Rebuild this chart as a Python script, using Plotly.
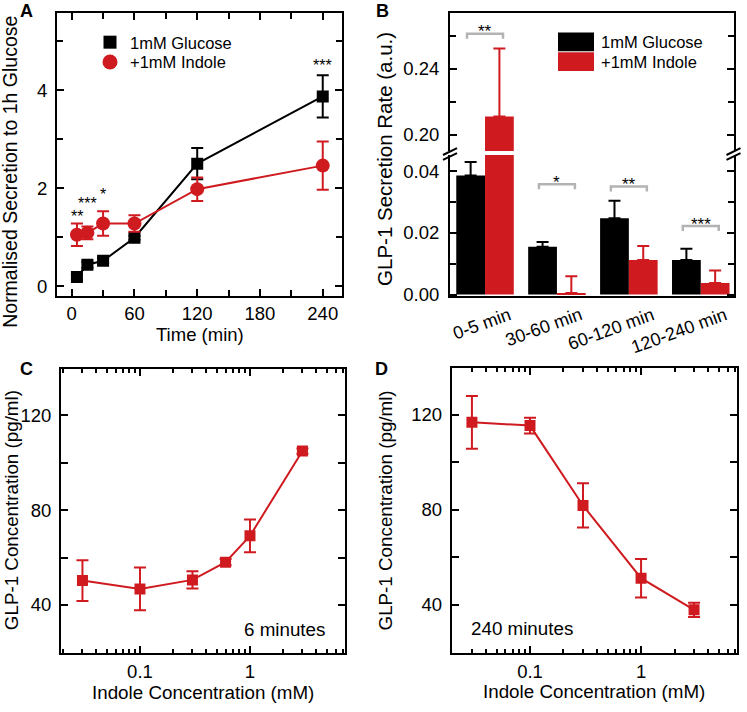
import plotly.graph_objects as go

# ---------------- data ----------------
# Panel A
time_min = [5, 15, 30, 60, 120, 240]
glucose_norm = [0.19, 0.44, 0.52, 0.99, 2.50, 3.87]
glucose_norm_err = [0.06, 0.06, 0.05, 0.04, 0.32, 0.43]
indole_norm = [1.05, 1.09, 1.28, 1.28, 1.98, 2.46]
indole_norm_err = [0.23, 0.13, 0.25, 0.17, 0.24, 0.49]
a_sig_x = [5, 15, 30, 240]
a_sig_y = [1.53, 1.78, 1.98, 4.60]
a_sig_text = ["**", "***", "*", "***"]

# Panel B
periods = ["0-5 min", "30-60 min", "60-120 min", "120-240 min"]
glucose_rate = [0.0386, 0.0155, 0.0247, 0.0112]
glucose_rate_err = [0.0043, 0.0015, 0.0057, 0.0036]
indole_rate = [0.211, 0.0005, 0.0112, 0.0037]
indole_rate_err = [0.0415, 0.0054, 0.0045, 0.0041]
b_sig_level = [0.2614, 0.0357, 0.0350, 0.0222]
b_sig_text = ["**", "*", "**", "***"]

# Panel C (6 minutes)
conc_c = [0.03, 0.1, 0.3, 0.6, 1, 3]
glp_c = [50.3, 46.8, 50.6, 58.1, 69.2, 105.0]
glp_c_err = [8.6, 9.0, 3.6, 1.3, 6.9, 1.1]

# Panel D (240 minutes)
conc_d = [0.03, 0.1, 0.3, 1, 3]
glp_d = [116.8, 115.4, 81.8, 51.2, 37.9]
glp_d_err = [11.1, 3.3, 9.3, 8.1, 3.0]

# ---------------- style ----------------
W, H = 747, 712
RED = "#cf1b20"
BLACK = "#000000"
GRAY = "#b3b3b3"
FONT = "Liberation Sans, Arial, sans-serif"
TICKFONT = dict(family=FONT, size=18.5, color="black")


def px(x):
    return x / W


def py(y):
    return 1 - y / H


fig = go.Figure()

# ---- Panel A ----
fig.add_trace(go.Scatter(
    x=time_min, y=glucose_norm, mode="lines+markers",
    line=dict(color=BLACK, width=2),
    marker=dict(symbol="square", size=12, color=BLACK),
    error_y=dict(type="data", array=glucose_norm_err, color=BLACK, thickness=2, width=6),
    xaxis="x", yaxis="y", showlegend=False))
fig.add_trace(go.Scatter(
    x=time_min, y=indole_norm, mode="lines+markers",
    line=dict(color=RED, width=2),
    marker=dict(symbol="circle", size=14, color=RED),
    error_y=dict(type="data", array=indole_norm_err, color=RED, thickness=2, width=6),
    xaxis="x", yaxis="y", showlegend=False))
# legend entries (markers only), one legend box each
fig.add_trace(go.Scatter(x=[None], y=[None], mode="markers", name="1mM Glucose",
                         marker=dict(symbol="square", size=13, color=BLACK),
                         xaxis="x", yaxis="y", legend="legend"))
fig.add_trace(go.Scatter(x=[None], y=[None], mode="markers", name="+1mM Indole",
                         marker=dict(symbol="circle", size=15, color=RED),
                         xaxis="x", yaxis="y", legend="legend2"))

# ---- Panel B (broken axis: lower x2/y2, upper x3/y3) ----
bx = list(range(len(periods)))
for xa, ya in (("x2", "y2"), ("x3", "y3")):
    fig.add_trace(go.Bar(
        x=bx, y=glucose_rate, marker=dict(color=BLACK, line=dict(width=0)),
        error_y=dict(type="data", array=glucose_rate_err, arrayminus=[0] * len(bx),
                     symmetric=False, color=BLACK, thickness=2, width=6),
        xaxis=xa, yaxis=ya, showlegend=False))
    fig.add_trace(go.Bar(
        x=bx, y=indole_rate, marker=dict(color=RED, line=dict(width=0)),
        error_y=dict(type="data", array=indole_rate_err, arrayminus=[0] * len(bx),
                     symmetric=False, color=RED, thickness=2, width=6),
        xaxis=xa, yaxis=ya, showlegend=False))

# ---- Panel C ----
fig.add_trace(go.Scatter(
    x=conc_c, y=glp_c, mode="lines+markers",
    line=dict(color=RED, width=2),
    marker=dict(symbol="square", size=11, color=RED),
    error_y=dict(type="data", array=glp_c_err, color=RED, thickness=2, width=6),
    xaxis="x4", yaxis="y4", showlegend=False))

# ---- Panel D ----
fig.add_trace(go.Scatter(
    x=conc_d, y=glp_d, mode="lines+markers",
    line=dict(color=RED, width=2),
    marker=dict(symbol="square", size=11, color=RED),
    error_y=dict(type="data", array=glp_d_err, color=RED, thickness=2, width=6),
    xaxis="x5", yaxis="y5", showlegend=False))


def ax(**kw):
    base = dict(showline=True, linecolor="black", linewidth=2, ticks="inside",
                ticklen=7, tickwidth=2, tickcolor="black", showgrid=False,
                zeroline=False, tickfont=TICKFONT, mirror="ticks")
    base.update(kw)
    return base


minor_lin = lambda d: dict(dtick=d, ticks="inside", ticklen=6, tickwidth=2, tickcolor="black")
log_minor = [0.02, 0.03, 0.04, 0.05, 0.06, 0.07, 0.08, 0.09,
             0.2, 0.3, 0.4, 0.5, 0.6, 0.7, 0.8, 0.9, 2, 3, 4, 5, 6, 7]
minor_log = dict(tickvals=log_minor, ticks="inside", ticklen=4, tickwidth=2, tickcolor="black")

b_lower_dom = [py(300), py(157)]
b_upper_dom = [py(153), py(13.3)]
LEGFONT = dict(family=FONT, size=16.5, color="black")

fig.update_layout(
    width=W, height=H, margin=dict(l=0, r=0, t=0, b=0),
    paper_bgcolor="white", plot_bgcolor="rgba(0,0,0,0)",
    font=dict(family=FONT, color="black"),
    barmode="group", bargap=0.2, bargroupgap=0,
    showlegend=True,
    legend=dict(x=px(90), y=py(43), xanchor="left", yanchor="middle",
                bgcolor="rgba(0,0,0,0)", font=LEGFONT, itemwidth=30),
    legend2=dict(x=px(90), y=py(63), xanchor="left", yanchor="middle",
                 bgcolor="rgba(0,0,0,0)", font=LEGFONT, itemwidth=30),
    # A
    xaxis=ax(domain=[px(57), px(342.3)], range=[-14.06, 258.7], anchor="y",
             tickvals=[0, 60, 120, 180, 240], minor=minor_lin(30), ticklabelstandoff=0),
    yaxis=ax(domain=[py(300), py(13.3)], range=[-0.201, 5.567], anchor="x",
             tickvals=[0, 2, 4], minor=minor_lin(1), ticklabelstandoff=4),
    # B lower
    xaxis2=dict(domain=[px(450), px(733.5)], range=[-0.487, 3.455], anchor="y2",
                showline=True, linecolor="black", linewidth=2, ticks="",
                showticklabels=False, showgrid=False, zeroline=False),
    yaxis2=ax(domain=b_lower_dom, range=[-0.00054, 0.0452], anchor="x2",
              tickvals=[0, 0.02, 0.04], ticktext=["0.00", "0.02", "0.04"],
              ticklabelstandoff=5,
              minor=dict(tickvals=[0.01, 0.03], ticks="inside", ticklen=6,
                         tickwidth=2, tickcolor="black")),
    # B upper
    xaxis3=dict(domain=[px(450), px(733.5)], matches="x2", anchor="y3", side="top",
                showline=True, linecolor="black", linewidth=2, ticks="",
                showticklabels=False, showgrid=False, zeroline=False),
    yaxis3=ax(domain=b_upper_dom, range=[0.190, 0.274], anchor="x3",
              tickvals=[0.20, 0.24], ticktext=["0.20", "0.24"],
              ticklabelstandoff=5,
              minor=dict(tickvals=[0.22, 0.26], ticks="inside", ticklen=6,
                         tickwidth=2, tickcolor="black")),
    # C
    xaxis4=ax(type="log", domain=[px(61), px(345)], range=[-1.718, 0.864], anchor="y4",
              tickvals=[0.1, 1], ticktext=["0.1", "1"], minor=minor_log, ticklabelstandoff=0),
    yaxis4=ax(domain=[py(661.7), py(373.3)], range=[19.6, 139.8], anchor="x4",
              tickvals=[40, 80, 120], ticklabelstandoff=4,
              minor=dict(tickvals=[60, 100], ticks="inside", ticklen=7,
                         tickwidth=2, tickcolor="black")),
    # D
    xaxis5=ax(type="log", domain=[px(451.7), px(736.7)], range=[-1.705, 0.861], anchor="y5",
              tickvals=[0.1, 1], ticktext=["0.1", "1"], minor=minor_log, ticklabelstandoff=0),
    yaxis5=ax(domain=[py(661.7), py(372.3)], range=[19.6, 139.8], anchor="x5",
              tickvals=[40, 80, 120], ticklabelstandoff=4,
              minor=dict(tickvals=[60, 100], ticks="inside", ticklen=7,
                         tickwidth=2, tickcolor="black")),
)

ann = []
shapes = []


def text(x, y, s, size=18.5, angle=0, bold=False, xanchor="center", yanchor="middle",
         xref="paper", yref="paper", yshift=0):
    ann.append(dict(x=x, y=y, xref=xref, yref=yref, text=("<b>%s</b>" % s) if bold else s,
                    showarrow=False, textangle=angle, xanchor=xanchor, yanchor=yanchor,
                    borderpad=0, yshift=yshift,
                    font=dict(family=FONT, size=size, color="black")))


# panel letters
text(px(26.7), py(11), "A", size=18, bold=True)
text(px(382), py(11), "B", size=18, bold=True)
text(px(26.7), py(374), "C", size=18, bold=True)
text(px(381.7), py(374), "D", size=18, bold=True)

# axis titles
text(px(10), py(174), "Normalised Secretion to 1h Glucose", size=19.5, angle=-90)
text(px(200), py(339), "Time (min)", size=18.5)
text(px(385), py(161), "GLP-1 Secretion Rate (a.u.)", size=20.5, angle=-90)
text(px(11.7), py(517), "GLP-1 Concentration (pg/ml)", size=18.8, angle=-90)
text(px(203), py(701), "Indole Concentration (mM)", size=18.8)
text(px(385), py(517), "GLP-1 Concentration (pg/ml)", size=18.8, angle=-90)
text(px(594), py(700), "Indole Concentration (mM)", size=18.8)

# inside labels C / D
text(px(284), py(638), "6 minutes", size=18.8)
text(px(521.7), py(637), "240 minutes", size=18.8)

# A significance stars
for xs, ys, s in zip(a_sig_x, a_sig_y, a_sig_text):
    text(xs, ys, s, size=16, xref="x", yref="y", yshift=-5)

# B category labels (rotated)
for i, lab in enumerate(periods):
    text(i + 0.41, py(307), lab, size=18, angle=-20, xanchor="right", yanchor="top",
         xref="x2")

# B significance brackets
for i, (lvl, s) in enumerate(zip(b_sig_level, b_sig_text)):
    if i == 0:
        yr, drop = "y3", 0.003
    else:
        yr, drop = "y2", 0.0016
    shapes.append(dict(type="path", xref="x2", yref=yr,
                       path="M %f %f L %f %f L %f %f L %f %f" % (
                           i - 0.25, lvl - drop, i - 0.25, lvl, i + 0.25, lvl, i + 0.25, lvl - drop),
                       line=dict(color=GRAY, width=2.5)))
    text(i, lvl, s, size=17, xref="x2", yref=yr, yanchor="middle", yshift=2)

# B legend (swatches)
shapes.append(dict(type="rect", xref="paper", yref="paper", x0=px(558), x1=px(594),
                   y0=py(52), y1=py(33), fillcolor=BLACK, line=dict(width=0)))
shapes.append(dict(type="rect", xref="paper", yref="paper", x0=px(558), x1=px(594),
                   y0=py(72), y1=py(53), fillcolor=RED, line=dict(width=0)))
text(px(600), py(42.5), "1mM Glucose", size=16.5, xanchor="left")
text(px(600), py(63), "+1mM Indole", size=16.5, xanchor="left")

# B axis break marks
for xc in (450, 733.5):
    for dy in (0, 5):
        shapes.append(dict(type="line", xref="paper", yref="paper",
                           x0=px(xc - 7), y0=py(157 + dy), x1=px(xc + 7), y1=py(150 + dy),
                           line=dict(color="black", width=2)))

fig.update_layout(annotations=ann, shapes=shapes)
fig.write_html("out.html", config={"displayModeBar": False},
               post_script="document.body.style.margin='0';document.body.style.padding='0';")
